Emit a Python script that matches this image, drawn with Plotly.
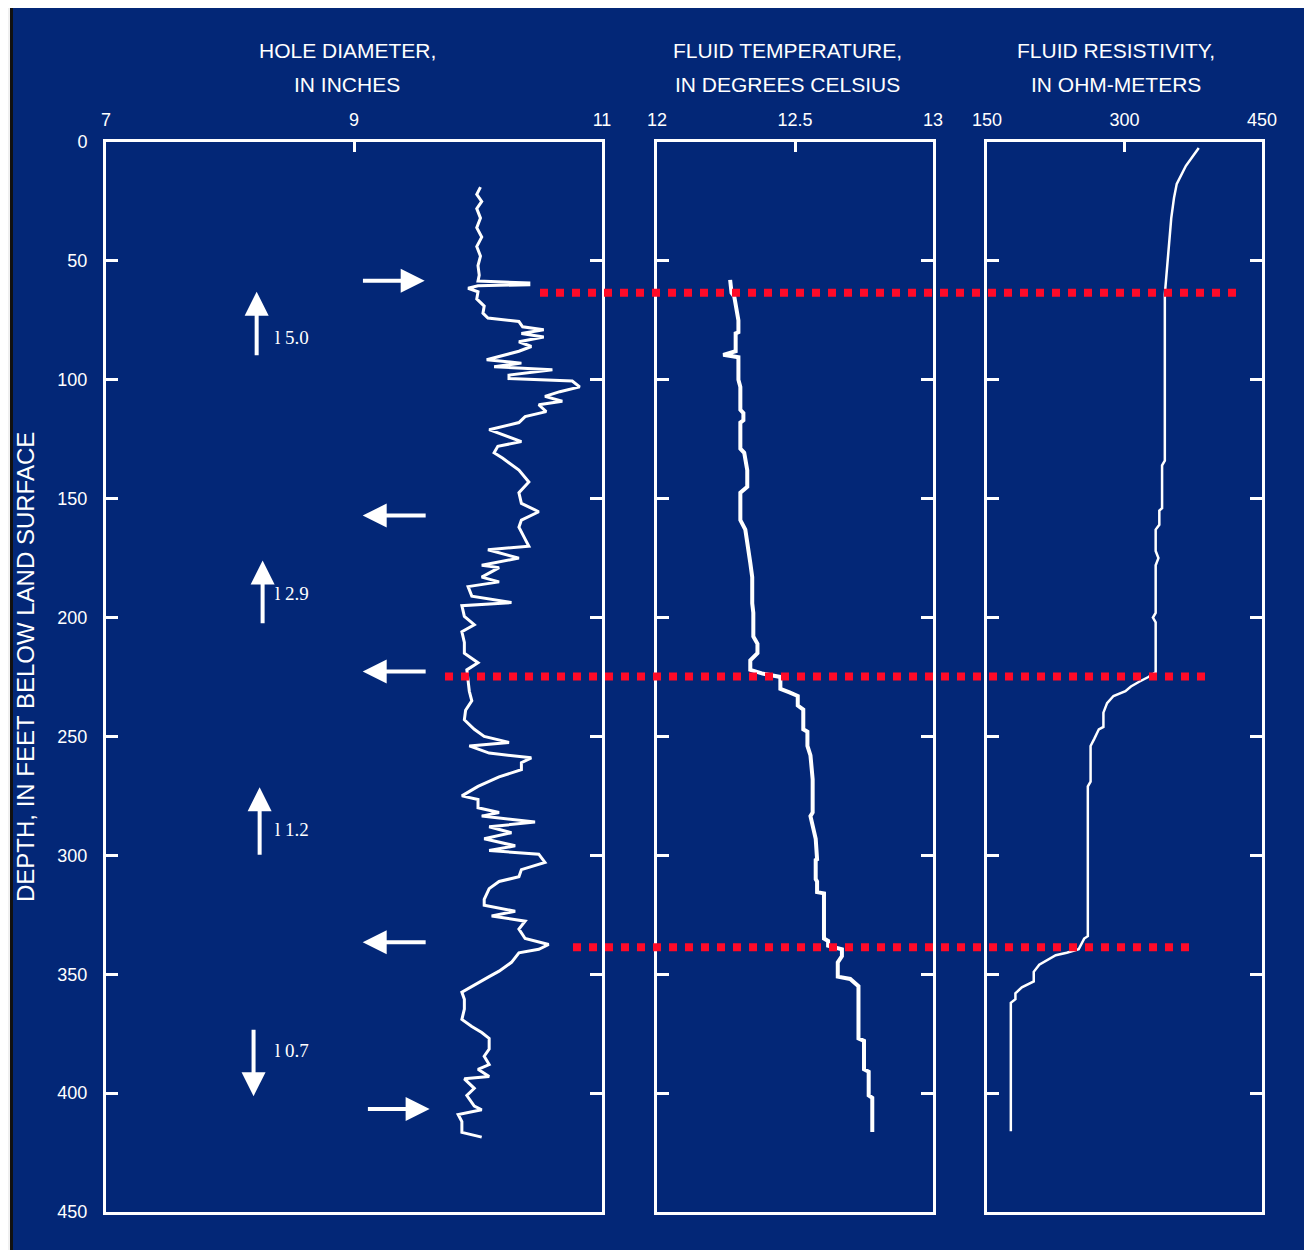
import plotly.graph_objects as go

# ---------------- data ----------------
caliper_depth = [19, 22, 25, 28, 32, 36, 40, 44, 48, 52, 56, 58.5, 59.3, 60.0, 60.5, 61.5, 63, 66, 69, 72,
                 74, 75.5, 77.7, 79, 80.5, 82, 84, 86, 88, 91.6, 93, 94.5, 95.8, 98, 99.5, 100.5, 103, 105,
                 107, 109, 110.5, 113.4, 115.5, 118, 121, 123, 126, 128, 130.7, 133, 135, 138, 143, 147.5,
                 152, 155.5, 159, 162, 167, 170, 171.5, 175, 178, 179, 183, 185, 187, 191, 193.7, 195, 199.5,
                 203, 206, 210.5, 215, 219, 222, 227, 231, 235, 239, 243, 247, 250, 252.5, 254, 257, 259,
                 261, 264, 267, 271, 275, 276.5, 280, 282, 283.5, 286, 288, 290.5, 293, 296, 298, 299.5,
                 303, 306, 309, 311, 314, 318.5, 321, 323.5, 325.5, 327.7, 331, 335, 337.5, 339.5, 341,
                 345, 348.7, 351, 355, 357.6, 360.5, 364.7, 369, 372, 374.5, 377, 381.5, 384.5, 388, 390,
                 393, 394, 398, 401, 405.5, 407, 409, 412, 416.5, 418.5]
caliper_in = [10.02, 9.99, 10.03, 9.99, 10.02, 9.99, 10.03, 9.99, 10.02, 10.0, 10.01, 10.0, 10.41, 10.41, 10.0,
              9.92, 10.0, 9.99, 10.05, 10.04, 10.08, 10.33, 10.36, 10.53, 10.35, 10.53, 10.33, 10.43, 10.33,
              10.07, 10.35, 10.13, 10.60, 10.25, 10.25, 10.76, 10.82, 10.66, 10.54, 10.68, 10.49, 10.55,
              10.38, 10.33, 10.09, 10.19, 10.35, 10.16, 10.13, 10.2, 10.25, 10.33, 10.41, 10.33, 10.35,
              10.49, 10.35, 10.33, 10.38, 10.41, 10.08, 10.33, 10.03, 10.17, 10.03, 10.17, 9.92, 9.95,
              10.27, 9.87, 9.89, 9.97, 9.87, 9.89, 9.89, 10.0, 9.91, 9.92, 9.93, 9.95, 9.9, 9.89, 9.97,
              10.05, 10.25, 9.93, 10.09, 10.43, 10.35, 10.35, 10.17, 10.0, 9.87, 10.0, 10.0, 10.17, 10.03,
              10.46, 10.09, 10.27, 10.05, 10.30, 10.09, 10.49, 10.54, 10.35, 10.33, 10.17, 10.09, 10.05,
              10.05, 10.30, 10.11, 10.38, 10.33, 10.38, 10.57, 10.49, 10.33, 10.27, 10.17, 10.09, 9.95,
              9.87, 9.89, 9.89, 9.87, 9.95, 10.03, 10.09, 10.09, 10.05, 10.09, 10.0, 10.09, 9.89, 9.97,
              9.91, 9.97, 10.03, 9.84, 9.87, 9.87, 10.03]

temp_depth = [58, 63.4, 65, 70.6, 75, 80, 80.5, 88, 89.5, 90.5, 100, 103, 112.6, 114, 117, 118, 129, 130.7,
              138, 145, 147.5, 159, 163, 177, 183, 194, 198, 208, 211, 215, 218, 222, 223.5, 225, 230,
              231.5, 233, 237, 238.7, 247, 248, 254, 258, 268, 282, 283.5, 293, 301.7, 302, 310, 311,
              315.5, 316, 335, 336, 338, 339.5, 342.4, 345, 351, 352, 355, 377, 378, 390, 391, 401, 402,
              416.4]
temp_c = [12.265, 12.27, 12.28, 12.29, 12.295, 12.295, 12.285, 12.285, 12.24, 12.295, 12.295, 12.302,
          12.302, 12.313, 12.313, 12.302, 12.302, 12.316, 12.327, 12.327, 12.302, 12.302, 12.32, 12.338,
          12.345, 12.345, 12.349, 12.349, 12.364, 12.364, 12.338, 12.338, 12.38, 12.447, 12.447, 12.48,
          12.51, 12.51, 12.53, 12.53, 12.545, 12.545, 12.556, 12.564, 12.564, 12.556, 12.575, 12.58,
          12.575, 12.575, 12.58, 12.58, 12.605, 12.605, 12.62, 12.62, 12.67, 12.67, 12.655, 12.655,
          12.70, 12.73, 12.73, 12.75, 12.75, 12.767, 12.767, 12.78, 12.78]

res_depth = [2.5, 10, 17.6, 23.5, 32, 49, 59.7, 64, 134, 136, 154, 155, 161, 163, 172, 175, 178, 198, 200,
             202, 223, 225, 227, 229, 231, 233, 236, 240, 246, 247, 251, 254, 269, 271, 334, 335, 339.5,
             341, 342, 344.5, 346, 349, 353, 355.5, 358, 360.5, 362, 416]
res_ohm = [381, 367, 357, 354, 351, 347, 345, 344, 344, 341, 341, 338, 338, 334, 334, 337, 334, 334, 331,
           334, 334, 326, 316, 307, 301, 288, 281, 277, 277, 272, 267, 263, 263, 260, 260, 256, 250,
           237, 225, 214, 207, 201, 201, 188, 181, 181, 176, 176]

# flow arrows (depth, tail inches, head inches)
flow_depths = [58.4, 157.1, 222.7, 336.6, 406.7]
flow_tail = [9.06, 9.59, 9.59, 9.59, 9.10]
flow_head = [9.57, 9.07, 9.07, 9.07, 9.61]

# vertical flow arrows with rates
rate_labels = ["l 5.0", "l 2.9", "l 1.2", "l 0.7"]
rate_label_depth = [82.4, 190, 289, 382]
rate_arrow_x = [8.215, 8.263, 8.239, 8.19]
rate_arrow_tail = [90.3, 203, 300.4, 372.7]
rate_arrow_head = [63, 176, 271.4, 401.3]

# intervals marked with red dotted lines (depth)
marker_depths = [63.4, 224.8, 338.7]

depth_ticks = [0, 50, 100, 150, 200, 250, 300, 350, 400, 450]

# ---------------- layout constants ----------------
OFF = 8                      # page body margin in the browser
W, H = 1312 - OFF, 1250 - OFF
BG = "#032777"
WHITE = "white"

def px_x(p):
    return (p - OFF) / W

def px_y(p):
    return 1 - (p - OFF) / H

y_dom = [px_y(1212), px_y(142)]

fig = go.Figure()
fig.add_trace(go.Scatter(x=caliper_in, y=caliper_depth, mode="lines", xaxis="x", yaxis="y",
                         line=dict(color=WHITE, width=3), showlegend=False, hoverinfo="skip"))
fig.add_trace(go.Scatter(x=temp_c, y=temp_depth, mode="lines", xaxis="x2", yaxis="y2",
                         line=dict(color=WHITE, width=4), showlegend=False, hoverinfo="skip"))
fig.add_trace(go.Scatter(x=res_ohm, y=res_depth, mode="lines", xaxis="x3", yaxis="y3",
                         line=dict(color=WHITE, width=2.5), showlegend=False, hoverinfo="skip"))

tickfont = dict(family="Liberation Sans, Arial, sans-serif", size=18, color=WHITE)

def xax(dom, rng, tv, anchor):
    return dict(domain=dom, range=rng, side="top", tickvals=tv, ticktext=[str(v) for v in tv],
                ticks="inside", ticklen=10, tickwidth=3, tickcolor=WHITE, showline=True,
                linecolor=WHITE, linewidth=3, mirror=True, showgrid=False, zeroline=False,
                tickfont=tickfont, anchor=anchor, fixedrange=True, ticklabelstandoff=6,
                automargin=False)

def yax(anchor, labels):
    d = dict(domain=y_dom, range=[450, 0], tickvals=depth_ticks, ticks="inside", ticklen=12,
             tickwidth=3, tickcolor=WHITE, showline=True, linecolor=WHITE, linewidth=3,
             mirror="ticks", showgrid=False, zeroline=False, tickfont=tickfont, anchor=anchor,
             showticklabels=labels, fixedrange=True, automargin=False)
    if labels:
        d["ticklabelstandoff"] = 12
    return d

fig.update_layout(
    width=W, height=H, autosize=False,
    margin=dict(l=0, r=0, t=0, b=0, pad=0),
    paper_bgcolor=BG, plot_bgcolor=BG,
    xaxis=xax([px_x(106), px_x(602)], [7, 11], [7, 9, 11], "y"),
    xaxis2=xax([px_x(657), px_x(933)], [12, 13], [12, 12.5, 13], "y2"),
    xaxis3=xax([px_x(987), px_x(1262)], [150, 450], [150, 300, 450], "y3"),
    yaxis=yax("x", True),
    yaxis2=yax("x2", False),
    yaxis3=yax("x3", False),
)

title_font = dict(family="Liberation Sans, Arial, sans-serif", size=21, color=WHITE)
annotations = []
for cx, l1, l2 in [(347, "HOLE DIAMETER,", "IN INCHES"),
                   (787, "FLUID TEMPERATURE,", "IN DEGREES CELSIUS"),
                   (1116, "FLUID RESISTIVITY,", "IN OHM-METERS")]:
    annotations.append(dict(x=px_x(cx), y=px_y(50), xref="paper", yref="paper", text=l1,
                            showarrow=False, font=title_font, xanchor="center", yanchor="middle"))
    annotations.append(dict(x=px_x(cx), y=px_y(84), xref="paper", yref="paper", text=l2,
                            showarrow=False, font=title_font, xanchor="center", yanchor="middle"))

annotations.append(dict(x=px_x(25), y=px_y(667), xref="paper", yref="paper",
                        text="DEPTH, IN FEET BELOW LAND SURFACE", textangle=-90, showarrow=False,
                        font=dict(family="Liberation Sans, Arial, sans-serif", size=24, color=WHITE),
                        xanchor="center", yanchor="middle"))

# horizontal flow arrows
for d, t, h in zip(flow_depths, flow_tail, flow_head):
    annotations.append(dict(x=h, y=d, ax=t, ay=d, xref="x", yref="y", axref="x", ayref="y",
                            text="", showarrow=True, arrowhead=2, arrowsize=1.2, arrowwidth=4,
                            arrowcolor=WHITE, standoff=0, startstandoff=0))
# vertical arrows + rates
for lab, ld, ax_, tl, hd in zip(rate_labels, rate_label_depth, rate_arrow_x, rate_arrow_tail, rate_arrow_head):
    annotations.append(dict(x=ax_, y=hd, ax=ax_, ay=tl, xref="x", yref="y", axref="x", ayref="y",
                            text="", showarrow=True, arrowhead=2, arrowsize=1.2, arrowwidth=4,
                            arrowcolor=WHITE, standoff=0, startstandoff=0))
    annotations.append(dict(x=8.35, y=ld, xref="x", yref="y", text=lab, showarrow=False,
                            font=dict(family="Liberation Serif, Times New Roman, serif", size=19, color=WHITE),
                            xanchor="left", yanchor="middle"))

fig.update_layout(annotations=annotations)

shapes = []
# red dotted interval lines
for d, x0, x1 in zip(marker_depths, [540, 445, 573], [1238, 1206, 1190]):
    shapes.append(dict(type="line", xref="paper", yref="y", x0=px_x(x0), x1=px_x(x1), y0=d, y1=d,
                       line=dict(color="#FF0A28", width=8, dash="dot"), layer="above"))
# page edges
shapes += [
    dict(type="rect", xref="paper", yref="paper", x0=0, x1=px_x(10), y0=0, y1=1,
         fillcolor="#f0f0f0", line=dict(width=0), layer="above"),
    dict(type="rect", xref="paper", yref="paper", x0=px_x(10), x1=px_x(13), y0=0, y1=1,
         fillcolor="#111111", line=dict(width=0), layer="above"),
    dict(type="rect", xref="paper", yref="paper", x0=px_x(1306), x1=px_x(1309), y0=0, y1=1,
         fillcolor="#111111", line=dict(width=0), layer="above"),
    dict(type="rect", xref="paper", yref="paper", x0=px_x(1309), x1=1, y0=0, y1=1,
         fillcolor="#f0f0f0", line=dict(width=0), layer="above"),
]
fig.update_layout(shapes=shapes)

fig.write_html("out.html")
